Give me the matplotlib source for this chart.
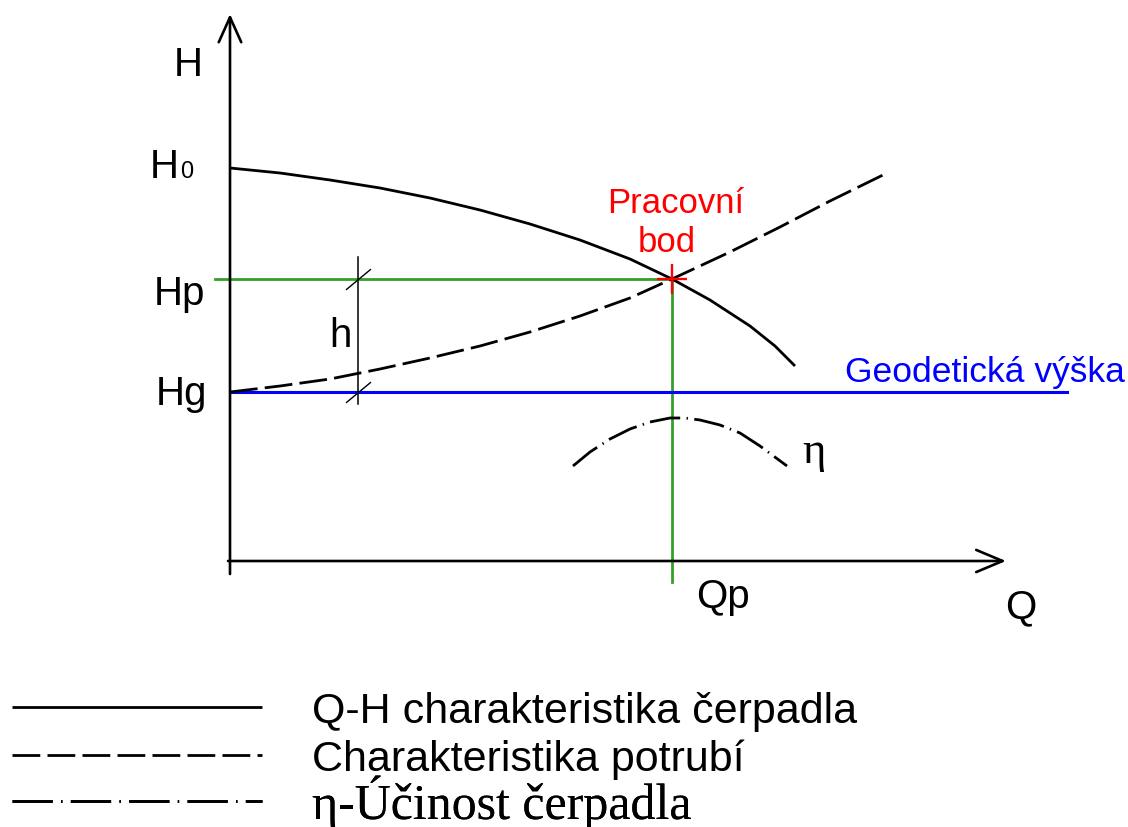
import matplotlib.pyplot as plt
from matplotlib.path import Path
from matplotlib.lines import Line2D

# schematic units: Q to the right, H upwards (1 unit = 100 px of the drawing)
H0 = 3.93
Hp = 2.82
Hg = 1.69
Qp = 4.42

# Q-H characteristic of the pump
qh_q = [0, 0.5, 1.0, 1.5, 2.0, 2.5, 3.0, 3.5, 4.0, 4.42, 4.8, 5.2, 5.45, 5.65]
qh_h = [3.93, 3.88, 3.81, 3.73, 3.63, 3.51, 3.37, 3.21, 3.02, 2.82, 2.61, 2.35, 2.15, 1.95]

# pipe characteristic
pipe_q = [0, 0.5, 1.0, 1.5, 2.0, 2.5, 3.0, 3.5, 4.0, 4.42, 5.0, 5.5, 6.0, 6.55]
pipe_h = [1.69, 1.75, 1.82, 1.92, 2.03, 2.15, 2.29, 2.45, 2.63, 2.82, 3.09, 3.34, 3.60, 3.87]

# efficiency curve
eta_q = [3.43, 3.6, 3.8, 4.0, 4.2, 4.4, 4.55, 4.7, 4.9, 5.1, 5.3, 5.57]
eta_h = [0.95, 1.09, 1.22, 1.32, 1.39, 1.43, 1.43, 1.41, 1.36, 1.28, 1.15, 0.95]

labels = ["Q-H charakteristika čerpadla", "Charakteristika potrubí", "η-Účinost čerpadla"]

sans = "Liberation Sans"
serif = ["Liberation Serif", "DejaVu Serif"]

fig = plt.figure(figsize=(11.28, 8.28), dpi=100)
ax = fig.add_axes([0, 0, 1, 1])
ax.set_xlim(-2.30, 8.98)
ax.set_ylim(-2.66, 5.62)
ax.axis("off")

# axes with open arrow heads
ax.annotate("", xy=(0, 5.47), xytext=(0, -0.13),
            arrowprops=dict(arrowstyle="->,head_length=1.0,head_width=0.45",
                            lw=1.9, color="black", mutation_scale=18, shrinkA=0, shrinkB=0))
ax.annotate("", xy=(7.76, 0), xytext=(-0.02, 0),
            arrowprops=dict(arrowstyle="->,head_length=1.0,head_width=0.42",
                            lw=1.9, color="black", mutation_scale=19, shrinkA=0, shrinkB=0))

# helper lines
green = "#34a02a"
ax.plot([-0.15, Qp], [Hp, Hp], color=green, lw=2.0)
ax.plot([Qp, Qp], [Hp, -0.21], color=green, lw=2.0)
ax.plot([0, 8.37], [Hg, Hg], color="#0000ff", lw=2.2)

# curves
lw = 2.0
l1, = ax.plot(qh_q, qh_h, color="black", lw=lw, solid_capstyle="butt")
l2, = ax.plot(pipe_q, pipe_h, color="black", lw=lw, dashes=(10, 2.6))
l3, = ax.plot(eta_q, eta_h, color="black", lw=lw, dashes=(11, 2.3, 0.5, 2.3))

# working point
ax.plot([Qp], [Hp], marker="+", ms=22, mew=1.7, color="red")

# dimension h
ax.plot([1.28, 1.28], [3.04, 1.57], color="black", lw=1.1)
slash = Path([(-1, -0.83), (1, 0.83)], [Path.MOVETO, Path.LINETO])
ax.plot([1.28, 1.28], [Hp, Hg], ls="none", marker=slash, ms=18, mew=1.0, color="black")

# labels
fs = 29
ax.text(-0.42, 4.86, "H", fontsize=fs, family=sans, ha="center", va="baseline")
ax.text(-0.51, 3.84, "H", fontsize=fs, family=sans, ha="right", va="baseline")
ax.text(-0.50, 3.84, "0", fontsize=17, family=sans, ha="left", va="baseline")
ax.text(-0.50, 2.57, "Hp", fontsize=fs, family=sans, ha="center", va="baseline")
ax.text(-0.48, 1.57, "Hg", fontsize=fs, family=sans, ha="center", va="baseline")
ax.text(1.10, 2.15, "h", fontsize=fs, family=sans, ha="center", va="baseline")
ax.text(4.93, -0.46, "Qp", fontsize=fs, family=sans, ha="center", va="baseline")
ax.text(7.91, -0.56, "Q", fontsize=fs, family=sans, ha="center", va="baseline")
ax.text(4.46, 3.49, "Pracovní", fontsize=25, family=sans, color="red", ha="center", va="baseline")
ax.text(4.37, 3.10, "bod", fontsize=25, family=sans, color="red", ha="center", va="baseline")
ax.text(6.15, 1.80, "Geodetická výška", fontsize=25.5, family=sans, color="#0000ff",
        ha="left", va="baseline")
ax.text(5.72, 0.99, "η", fontsize=32, family=serif, ha="left", va="baseline")

# legend below the chart, one row per line style
eta_key = Line2D([], [], color="black", lw=lw, dashes=(14.5, 3.0, 0.5, 3.0))
rows = [(l1, labels[0], sans, 31, 712), (l2, labels[1], sans, 31, 760),
        (eta_key, labels[2], serif, 36, 803)]
for handle, text, family, size, yc in rows:
    px = size * 100 / 72
    leg = ax.legend([handle], [text], loc="center left",
                    bbox_to_anchor=(12 / 1128, 1 - yc / 828), bbox_transform=fig.transFigure,
                    frameon=False, borderpad=0, borderaxespad=0,
                    handlelength=250 / px, handletextpad=50 / px,
                    prop={"family": family, "size": size})
    ax.add_artist(leg)

fig.savefig("out.png", dpi=100)
